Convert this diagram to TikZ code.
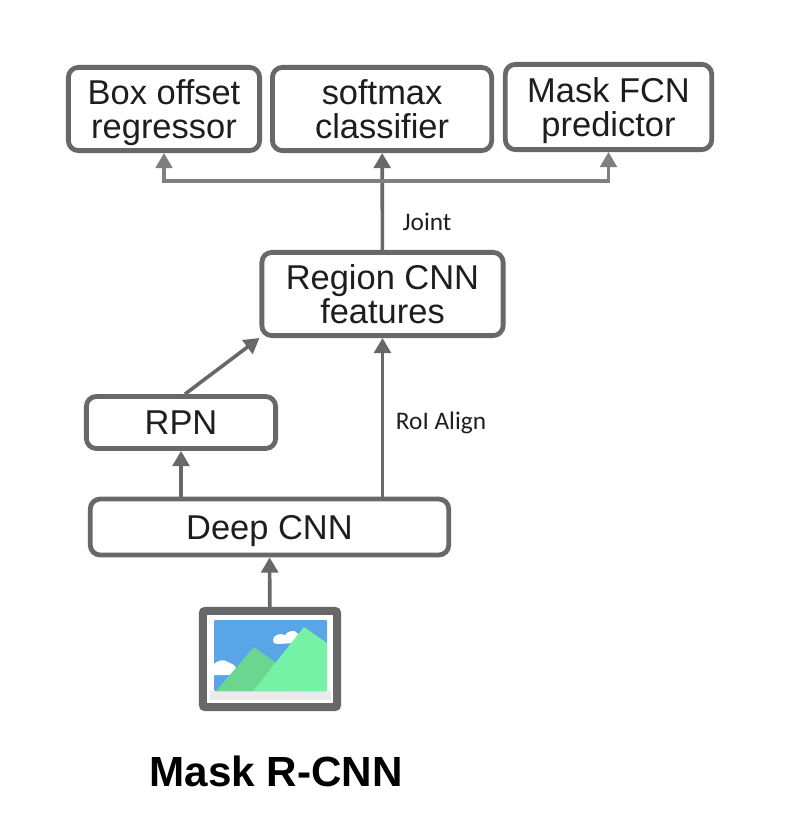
\documentclass[tikz,border=0pt]{standalone}
\usepackage{fontspec}
\setmainfont{Liberation Sans}
\newfontfamily\labelfont{Carlito}
\usetikzlibrary{arrows.meta, positioning}
\definecolor{MaskGray}{RGB}{104,104,104}
\definecolor{MaskText}{RGB}{30,30,30}
\definecolor{ImgSky}{RGB}{90,165,232}
\definecolor{ImgLight}{RGB}{118,242,166}
\definecolor{ImgDark}{RGB}{107,214,144}
\definecolor{ImgShade}{RGB}{235,235,235}
\begin{document}
\begin{tikzpicture}[
    x=0.025cm, y=-0.025cm,
    block/.style={draw=MaskGray, line width=0.12cm, rounded corners=0.25cm, fill=white, align=center,
                  inner sep=0pt, text=MaskText, text depth=0pt, font=\fontsize{24.5}{24}\selectfont},
    arrow/.style={-{Triangle[length=0.38cm, width=0.42cm]}, line width=0.09cm, color=MaskGray},
    edgelabel/.style={font=\labelfont\fontsize{18}{20}\selectfont, text=MaskText, inner sep=0pt},
    imgframe/.style={draw=MaskGray, line width=0.2cm, rounded corners=0.05cm, fill=white,
                     inner sep=0pt, minimum width=3.35cm, minimum height=2.4cm},
]
\useasboundingbox (0,0) rectangle (800,836);

\node[block, minimum width=4.78cm, minimum height=2.08cm] (box) at (164,109) {Box offset\\regressor};
\node[block, minimum width=5.48cm, minimum height=2.08cm, right=0.2cm of box] (softmax) {softmax\\classifier};
\node[block, minimum width=5.16cm, minimum height=2.13cm, right=0.22cm of softmax, yshift=0.05cm] (mask) {Mask FCN\\predictor};

\node[block, minimum width=6.03cm, minimum height=2.08cm] (region) at (382.5,294) {Region CNN\\features};
\node[block, minimum width=4.73cm, minimum height=1.3cm] (rpn) at (181,422.5) {RPN};
\node[block, minimum width=8.96cm, minimum height=1.4cm] (deep) at (269.5,527) {Deep CNN};

\node[imgframe] (img) at (270,659) {};
\fill[ImgShade] (210,691) rectangle (331,700);
\fill[ImgSky, rounded corners=0.03cm] (214,620) rectangle (327,691);
\fill[white] (273,641) .. controls (273,634) and (281,633) .. (285,635)
  .. controls (288,630) and (296,630) .. (297,633) .. controls (300,630) and (297,641) .. (295,643)
  -- (278,644) .. controls (275,644) and (273,643) .. (273,641) -- cycle;
\fill[white] (214,664) .. controls (218,660) and (224,659) .. (228,662)
  .. controls (232,664) and (236,665) .. (236,669) -- (232,675) -- (214,675) -- cycle;
\fill[ImgDark] (216,691) -- (254,647) -- (275,662) -- (290,691) -- cycle;
\fill[ImgLight] (253,691) -- (304,627) -- (327,643) -- (327,691) -- cycle;

\node[font=\bfseries\fontsize{30}{32}\selectfont, text=black, inner sep=0pt] (title) at (276,771) {Mask R-CNN};

\coordinate (fork) at (382,181);
\draw[arrow] (region) -- (softmax);
\draw[arrow, line width=0.08cm, color=MaskGray!85] (fork) -| (box);
\draw[arrow, line width=0.08cm, color=MaskGray!85] (fork) -| (mask);
\draw[arrow] ([xshift=0.1cm]rpn.north) -- (region.south west);
\draw[arrow] (deep.north -| region) -- (region);
\draw[arrow] (deep.north -| rpn) -- (rpn);
\draw[arrow] (img) -- (deep);

\node[edgelabel] (joint) at (427,222) {Joint};
\node[edgelabel] (roi) at (441,423) {RoI Align};
\end{tikzpicture}
\end{document}
